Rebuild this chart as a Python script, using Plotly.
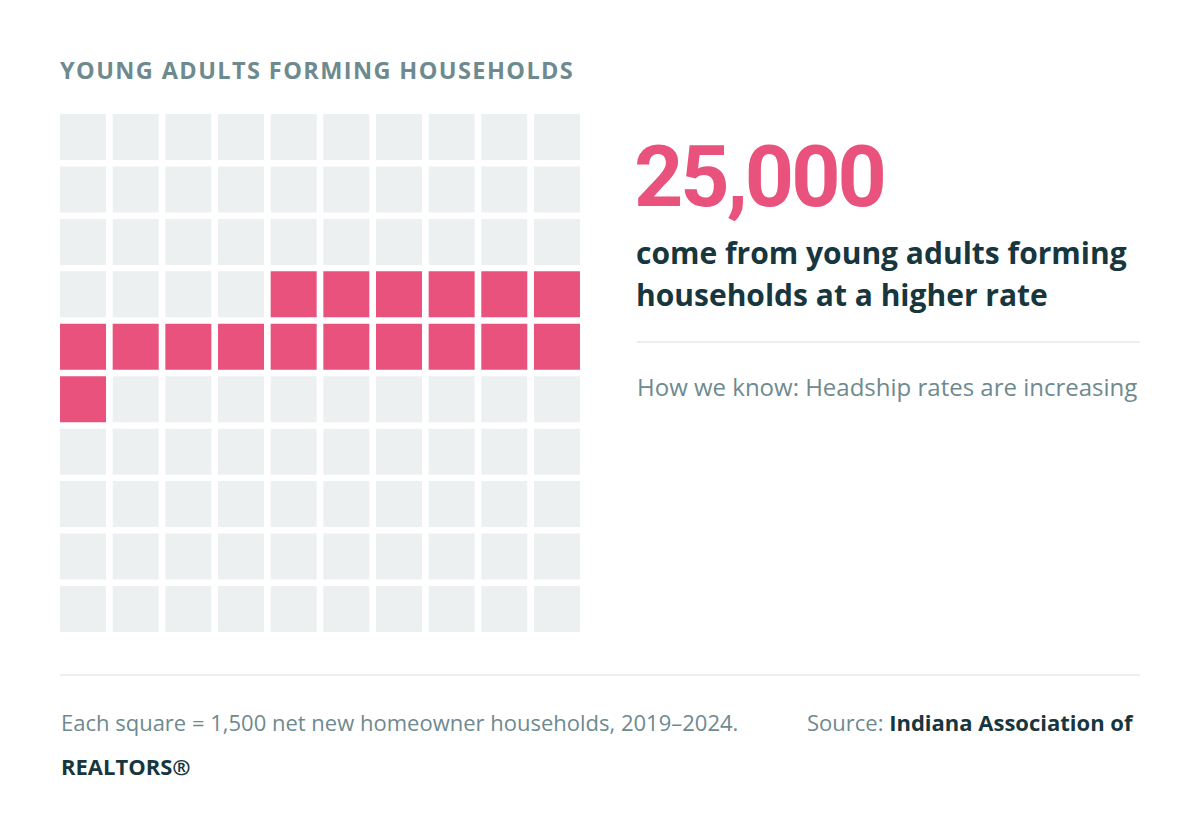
import plotly.graph_objects as go

# waffle data: 10 x 10 grid, cells counted row by row from top-left
n_rows = 10
n_cols = 10
first_filled = 34
filled_count = 17          # 17 squares x 1,500 households
per_square = 1500

headline = "25,000"
title = "YOUNG ADULTS FORMING HOUSEHOLDS"
subtitle_lines = ["come from young adults forming", "households at a higher rate"]
how_we_know = "How we know: Headship rates are increasing"
note = "Each square = 1,500 net new homeowner households, 2019–2024."
source_name = "Indiana Association of"

pink = "#e8527c"
grey_cell = "#edf0f1"
muted = "#6e8a8f"
dark = "#17363d"

cells = list(range(n_rows * n_cols))
xs = [c % n_cols for c in cells]
ys = [c // n_cols for c in cells]
colors = [pink if first_filled <= c < first_filled + filled_count else grey_cell
          for c in cells]

fig = go.Figure()
fig.add_trace(go.Scatter(
    x=xs, y=ys, mode="markers",
    marker=dict(symbol="square", size=46, color=colors, line=dict(width=0)),
    hoverinfo="skip", showlegend=False,
))

# the page adds an 8px body margin, so the figure is a bit smaller
OFF = 8
W, H = 1200 - 2 * OFF, 826 - 2 * OFF

def px(v):
    return (v - OFF) / W

def py(v):
    return 1 - (v - OFF) / H

fig.update_layout(
    width=W, height=H,
    margin=dict(l=0, r=0, t=0, b=0),
    paper_bgcolor="white",
    plot_bgcolor="rgba(0,0,0,0)",
    xaxis=dict(domain=[px(56.7), px(583.3)], range=[-0.5, n_cols - 0.5],
               visible=False, fixedrange=True),
    yaxis=dict(domain=[py(635.2), py(110.8)], range=[n_rows - 0.5, -0.5],
               visible=False, fixedrange=True),
)

# dividers
fig.add_shape(type="line", xref="paper", yref="paper",
              x0=px(637), x1=px(1140), y0=py(342), y1=py(342),
              line=dict(color="#e6eaea", width=1.5))
fig.add_shape(type="line", xref="paper", yref="paper",
              x0=px(60), x1=px(1140), y0=py(675), y1=py(675),
              line=dict(color="#e6eaea", width=1.5))

def label(text, x, y, size, color, weight=400, family="Open Sans",
          xanchor="left"):
    fig.add_annotation(
        text=text, x=px(x), y=py(y), xref="paper", yref="paper",
        xanchor=xanchor, yanchor="middle", showarrow=False, align="left",
        font=dict(family=family, size=size, color=color, weight=weight),
    )

label(f"<span style='letter-spacing:1.4px'>{title}</span>", 58, 70, 23.5, muted, 700)
label(f"<span style='letter-spacing:-3px'>{headline}</span>", 632, 177, 86, pink,
      700, family="Roboto")
label(subtitle_lines[0], 634, 252, 30, dark, 700)
label(subtitle_lines[1], 634, 294, 30, dark, 700)
label(how_we_know, 635, 386, 24, muted)
label(note, 59, 722, 22, muted)
label(f"Source: <b style='color:{dark}'>{source_name}</b>", 1136, 722, 22,
      muted, xanchor="right")
label("REALTORS®", 59, 766, 22, dark, 700)

fig.write_html("out.html")
